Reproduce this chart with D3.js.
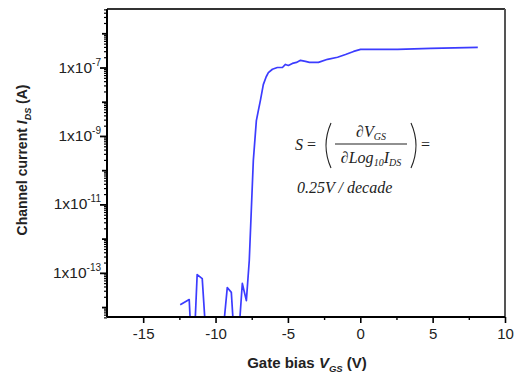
<!DOCTYPE html>
<html><head><meta charset="utf-8">
<script src="https://cdn.jsdelivr.net/npm/d3@7"></script>
<style>body{margin:0;background:#fff}svg{display:block}</style>
</head><body>
<svg id="c" width="517" height="378"></svg>
<script>
// Data: gate bias (V) and log10 of channel current (A)
const vgs = [-12.44,-11.82,-11.68,-11.47,-11.27,-10.92,-10.64,-9.54,-9.19,-8.91,-8.70,-8.43,-8.15,-7.87,-7.67,-7.53,-7.39,-7.18,-7.04,-6.90,-6.70,-6.50,-6.35,-6.07,-5.73,-5.38,-5.17,-4.97,-4.69,-4.41,-4.13,-3.79,-3.51,-3.23,-2.89,-2.26,-1.57,-1.02,-0.46,0.02,0.71,2.58,4.87,8.12];
const logIds = [-13.93,-13.78,-15,-15,-13.05,-13.17,-15,-15,-13.43,-13.57,-15,-15,-13.31,-13.81,-12.64,-11.18,-9.72,-8.55,-8.25,-7.96,-7.50,-7.27,-7.15,-7.05,-7.00,-7.00,-6.91,-6.94,-6.88,-6.85,-6.79,-6.82,-6.85,-6.85,-6.85,-6.76,-6.70,-6.62,-6.53,-6.47,-6.47,-6.47,-6.44,-6.41];
const xTicks = [-15,-10,-5,0,5,10];
const xMinor = [-12.5,-7.5,-2.5,2.5,7.5];
const yLabelExps = [-7,-9,-11,-13];
const yDecades = [-14,-13,-12,-11,-10,-9,-8,-7,-6];

const svg = d3.select("#c");
const L=107,R=505,T=9,B=317;
const x = d3.scaleLinear().domain([-17.5,10]).range([L,R]);
const y = d3.scaleLog().domain([Math.pow(10,-14.29),Math.pow(10,-5.29)]).range([B,T]);

svg.append("defs").append("clipPath").attr("id","pc").append("rect")
  .attr("x",L).attr("y",T).attr("width",R-L).attr("height",B-T);

// curve
const pts = vgs.map((v,i)=>[v,Math.pow(10,logIds[i])]);
svg.append("path").datum(pts).attr("clip-path","url(#pc)")
  .attr("fill","none").attr("stroke","#3c3cff").attr("stroke-width",1.7)
  .attr("stroke-linejoin","round")
  .attr("d",d3.line().x(d=>x(d[0])).y(d=>y(d[1])));

// frame top/right
svg.append("line").attr("x1",L).attr("x2",R).attr("y1",T).attr("y2",T).attr("stroke","#333").attr("stroke-width",2);
svg.append("line").attr("x1",R).attr("x2",R).attr("y1",T).attr("y2",B).attr("stroke","#555").attr("stroke-width",2);

// x axis
const fontS = "Liberation Sans, Arial, sans-serif";
const gx = svg.append("g").attr("transform",`translate(0,${B})`)
  .call(d3.axisBottom(x).tickValues(xTicks).tickSize(6).tickPadding(5).tickFormat(d=>String(d)));
gx.select(".domain").attr("stroke","#000").attr("stroke-width",2).attr("d",`M${L},0H${R}`);
gx.selectAll(".tick line").attr("stroke-width",1.6);
gx.selectAll(".tick text").attr("font-family",fontS).attr("font-size",15).attr("fill","#222");
const gxm = svg.append("g").attr("transform",`translate(0,${B})`)
  .call(d3.axisBottom(x).tickValues(xMinor).tickSize(3).tickFormat(""));
gxm.select(".domain").remove();
gxm.selectAll(".tick line").attr("stroke-width",1.4);

// y axis
const yMinorVals = [];
yDecades.forEach(e=>{for(let k=2;k<=9;k++){const v=k*Math.pow(10,e); if(Math.log10(v)<=-5.29) yMinorVals.push(v);}});
for(let k=5;k<=9;k++) yMinorVals.push(k*1e-15);
const gym = svg.append("g").attr("transform",`translate(${L},0)`)
  .call(d3.axisLeft(y).tickValues(yMinorVals).tickSize(3).tickFormat(""));
gym.select(".domain").remove();
gym.selectAll(".tick line").attr("stroke-width",1.2);
const gy = svg.append("g").attr("transform",`translate(${L},0)`)
  .call(d3.axisLeft(y).tickValues(yDecades.map(e=>Math.pow(10,e))).tickSize(5).tickPadding(4).tickFormat(""));
gy.select(".domain").attr("stroke","#000").attr("stroke-width",2).attr("d",`M0,${T}V${B}`);
gy.selectAll(".tick line").attr("stroke-width",1.8)
  .attr("x2",d=>yLabelExps.includes(Math.round(Math.log10(d)))?-7:-5);
yLabelExps.forEach(e=>{
  const t = svg.append("text").attr("x",L-6).attr("y",y(Math.pow(10,e))+5)
    .attr("text-anchor","end").attr("font-family",fontS).attr("font-size",15.5).attr("fill","#222");
  t.append("tspan").text("1x10");
  t.append("tspan").attr("dy",-7).attr("font-size",10).text(String(e));
});

// axis titles
const xt = svg.append("text").attr("x",307).attr("y",368).attr("text-anchor","middle")
  .attr("font-family",fontS).attr("font-size",15).attr("font-weight","bold").attr("fill","#222");
xt.append("tspan").text("Gate bias ");
xt.append("tspan").attr("font-style","italic").text("V");
xt.append("tspan").attr("font-style","italic").attr("font-size",9.5).attr("dy",4).text("GS");
xt.append("tspan").attr("dy",-4).text(" (V)");

const yt = svg.append("text").attr("transform","translate(27,160) rotate(-90)").attr("text-anchor","middle")
  .attr("font-family",fontS).attr("font-size",14).attr("font-weight","bold").attr("fill","#222");
yt.append("tspan").text("Channel current ");
yt.append("tspan").attr("font-style","italic").text("I");
yt.append("tspan").attr("font-style","italic").attr("font-size",9).attr("dy",4).text("DS");
yt.append("tspan").attr("dy",-4).text(" (A)");

// formula
const fontT = "Liberation Serif, Times New Roman, serif";
const fg = svg.append("g").attr("font-family",fontT).attr("font-style","italic").attr("fill","#222");
const s1 = fg.append("text").attr("x",295).attr("y",150).attr("font-size",16);
s1.append("tspan").text("S");
s1.append("tspan").attr("font-style","normal").text(" =");
const num = fg.append("text").attr("x",371).attr("y",137).attr("text-anchor","middle").attr("font-size",16);
num.append("tspan").attr("font-style","normal").text("∂");
num.append("tspan").text("V");
num.append("tspan").attr("font-size",10).attr("dy",3).text("GS");
svg.append("line").attr("x1",335).attr("x2",407).attr("y1",144).attr("y2",144).attr("stroke","#222").attr("stroke-width",1.2);
const den = fg.append("text").attr("x",371).attr("y",163).attr("text-anchor","middle").attr("font-size",16);
den.append("tspan").attr("font-style","normal").text("∂");
den.append("tspan").text("Log");
den.append("tspan").attr("font-size",10).attr("dy",3).text("10");
den.append("tspan").attr("dy",-3).text("I");
den.append("tspan").attr("font-size",10).attr("dy",3).text("DS");
// parentheses
svg.append("path").attr("d","M331,123 Q321,145.5 331,168").attr("fill","none").attr("stroke","#222").attr("stroke-width",1.1);
svg.append("path").attr("d","M411,123 Q421,145.5 411,168").attr("fill","none").attr("stroke","#222").attr("stroke-width",1.1);
fg.append("text").attr("x",421).attr("y",150).attr("font-size",16).attr("font-style","normal").text("=");
fg.append("text").attr("x",297).attr("y",193).attr("font-size",16).text("0.25V / decade");
</script>
</body></html>
